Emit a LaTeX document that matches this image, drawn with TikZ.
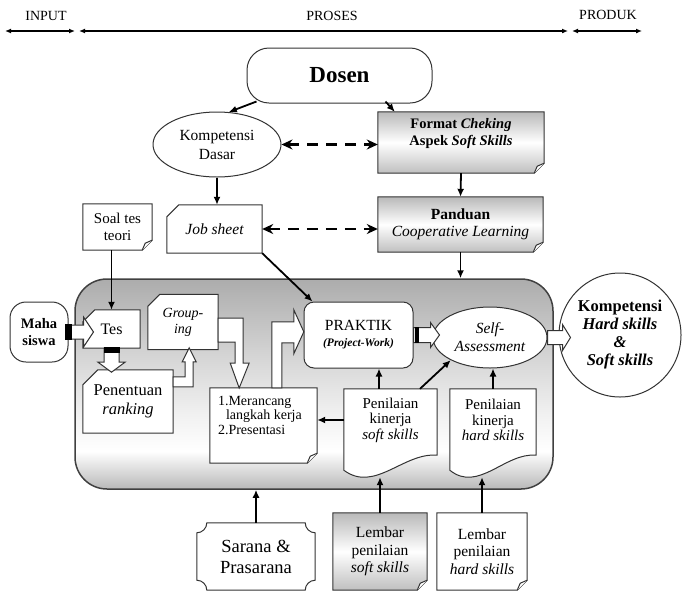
\documentclass[tikz,border=0pt]{standalone}
\usepackage{fontspec}
\setmainfont{Liberation Serif}
\usetikzlibrary{arrows.meta,calc,shapes.geometric}
\pgfdeclarelayer{back}
\pgfdeclarelayer{mid}
\pgfsetlayers{back,mid,main}
\pgfdeclareverticalshading{bigshade}{100bp}{color(0bp)=(gray!55); color(25bp)=(gray!55); color(34bp)=(white); color(42bp)=(gray!10); color(56bp)=(gray!32); color(75bp)=(gray!65); color(100bp)=(gray!65)}
\newcommand\fsz[2]{\fontsize{#1}{#2}\selectfont}
\newcommand\foldshape[2]{%
  \draw[outl,#2] (#1.north west) -- (#1.north east) -- ([yshift=10pt]#1.south east) -- ([xshift=-10pt]#1.south east) -- (#1.south west) -- cycle;
  \draw[outl,fill=white] ([yshift=10pt]#1.south east) -- ([shift={(-7pt,7pt)}]#1.south east) -- ([xshift=-10pt]#1.south east);}
\newcommand\cardshape[2]{%
  \draw[outl,fill=white] ([yshift=-#2]#1.north west) -- ([xshift=#2]#1.north west) -- (#1.north east) -- (#1.south east) -- (#1.south west) -- cycle;}
\newcommand\docshape[1]{%
  \draw[outl,fill=white] (#1.north west) -- (#1.north east) -- ($(#1.south east)+(0,4)$)
    .. controls ($(#1.south west)!0.64!(#1.south east)+(0,1)$) and ($(#1.south west)!0.33!(#1.south east)+(0,42)$) .. ($(#1.south west)+(0,19)$) -- cycle;}
\newcommand\plaqueshape[1]{%
  \draw[outl,fill=white] ([xshift=10pt]#1.north west) -- ([xshift=-10pt]#1.north east)
    .. controls ([shift={(-10pt,-5.5pt)}]#1.north east) and ([shift={(-5.5pt,-10pt)}]#1.north east) .. ([yshift=-10pt]#1.north east)
    -- ([yshift=10pt]#1.south east)
    .. controls ([shift={(-5.5pt,10pt)}]#1.south east) and ([shift={(-10pt,5.5pt)}]#1.south east) .. ([xshift=-10pt]#1.south east)
    -- ([xshift=10pt]#1.south west)
    .. controls ([shift={(10pt,5.5pt)}]#1.south west) and ([shift={(5.5pt,10pt)}]#1.south west) .. ([yshift=10pt]#1.south west)
    -- ([yshift=-10pt]#1.north west)
    .. controls ([shift={(5.5pt,-10pt)}]#1.north west) and ([shift={(10pt,-5.5pt)}]#1.north west) .. ([xshift=10pt]#1.north west) -- cycle;}
\begin{document}
\begin{tikzpicture}[x=1pt,y=-1pt,
  outl/.style={draw=black!80, line width=1pt},
  bx/.style={inner sep=0pt, align=center, text=black},
  conn/.style={line width=1.8pt, -{Latex[length=8pt,width=7pt]}},
  dconn/.style={line width=2.4pt, dash pattern=on 11pt off 8pt, {Stealth[length=11pt,width=10pt]}-{Stealth[length=11pt,width=10pt]}},
  blk/.style={draw=black!80, line width=1pt, fill=white},
  gfill/.style={top color=gray!55, bottom color=gray!50, middle color=white},
  topar/.style={line width=1.2pt, {Latex[length=6pt,width=5pt]}-{Latex[length=6pt,width=5pt]}}]
\useasboundingbox (0,0) rectangle (684,592);

% top axis
\coordinate (a0) at (5,31); \coordinate (a1) at (75,31);
\coordinate (a2) at (79,31); \coordinate (a3) at (568,31);
\coordinate (a4) at (572,31); \coordinate (a5) at (642,31);
\draw[topar] (a0) -- (a1);
\draw[topar] (a2) -- (a3);
\draw[topar] (a4) -- (a5);
\node[bx, font=\fsz{14}{16}] (lin) at (46,16) {INPUT};
\node[bx, font=\fsz{14}{16}] (lpr) at (332,16) {PROSES};
\node[bx, font=\fsz{14}{16}] (lpd) at (608,15) {PRODUK};

% big process box
\begin{pgfonlayer}{back}
\node[draw=black!75, line width=1.5pt, rounded corners=32pt, shading=bigshade, inner sep=0pt,
  minimum width=478pt, minimum height=210pt] (proc) at (314,384) {};
\end{pgfonlayer}

% nodes
\node[bx, draw=black!80, line width=1pt, fill=white, rounded corners=22pt, minimum width=185pt, minimum height=55pt, font=\fsz{23}{26}\bfseries] (dosen) at (339.5,75.5) {Dosen};
\node[bx, ellipse, draw=black!80, line width=1pt, fill=white, minimum width=128pt, minimum height=65pt, font=\fsz{15.5}{19}] (kd) at (217,144.5) {Kompetensi\\Dasar};
\node[bx, minimum width=166pt, minimum height=61pt] (format) at (461,142.5) {};
\node[bx, font=\fsz{14.5}{17}\bfseries] (formatt) at (461,134) {Format \textit{Cheking}\\Aspek \textit{Soft Skills}};
\node[bx, minimum width=165pt, minimum height=55pt, font=\fsz{15.5}{17}] (panduan) at (460.5,224.5) {\textbf{Panduan}\\\textit{Cooperative Learning}};
\node[bx, minimum width=69pt, minimum height=46pt, font=\fsz{15}{17}] (soal) at (117.5,227) {Soal tes\\teori};
\node[bx, minimum width=95pt, minimum height=48pt, font=\fsz{15.5}{18}\itshape] (jobsheet) at (214.5,229) {Job sheet};
\node[bx, draw=black!80, line width=1pt, fill=white, rounded corners=16pt, minimum width=58pt, minimum height=60pt, font=\fsz{14.5}{17}\bfseries] (maha) at (39,332) {Maha\\siswa};
\node[bx, minimum width=57pt, minimum height=38pt, font=\fsz{16}{18}] (tes) at (111.5,329) {Tes};
\node[bx, minimum width=90pt, minimum height=63pt, font=\fsz{16.5}{19}] (penentuan) at (128,401.5) {Penentuan\\\textit{ranking}};
\node[bx, minimum width=70pt, minimum height=55pt, font=\fsz{14}{16}\itshape] (grouping) at (183,322) {Group-\\ing};
\node[bx, minimum width=107pt, minimum height=75pt] (merancang) at (263.5,425.5) {};
\node[bx, anchor=north west, align=left, font=\fsz{14}{14.5}] (mert) at ([shift={(8pt,-8pt)}]merancang.north west) {1.Merancang\\\hspace*{8pt}langkah kerja\\2.Presentasi};
\node[bx, draw=black!80, line width=1pt, fill=white, rounded corners=10pt, minimum width=109pt, minimum height=66pt, font=\fsz{15.5}{16}] (praktik) at (358.5,335) {PRAKTIK\\{\fsz{11.5}{13}\bfseries\itshape (Project-Work)}};
\node[bx, ellipse, draw=black!80, line width=1pt, fill=white, minimum width=114pt, minimum height=61pt, font=\fsz{15.5}{18}\itshape] (self) at (490,337.5) {Self-\\Assessment};
\node[bx, ellipse, draw=black!80, line width=1pt, fill=white, minimum width=122pt, minimum height=124pt, font=\fsz{16.5}{18}\bfseries] (komp) at (620,335) {Kompetensi\\\textit{Hard skills}\\\textit{\&}\\\textit{Soft skills}};
\node[bx, minimum width=93pt, minimum height=62pt, font=\fsz{15}{15.5}] (psoft) at (390.5,420) {Penilaian\\kinerja\\\textit{soft skills}};
\node[bx, minimum width=86pt, minimum height=62pt, font=\fsz{15}{15.5}] (phard) at (493,420) {Penilaian\\kinerja\\\textit{hard skills}};
\node[bx, minimum width=118pt, minimum height=67pt, font=\fsz{18.5}{21}] (sarana) at (256,556.5) {Sarana \&\\Prasarana};
\node[bx, minimum width=94pt, minimum height=77pt, font=\fsz{15.5}{17.5}] (lsoft) at (380,551.5) {Lembar\\penilaian\\\textit{soft skills}};
\node[bx, minimum width=90pt, minimum height=77pt, font=\fsz{15.5}{17.5}] (lhard) at (482,551.5) {Lembar\\penilaian\\\textit{hard skills}};

% custom shapes behind the texts
\begin{pgfonlayer}{mid}
\foldshape{format}{gfill}
\foldshape{panduan}{gfill}
\foldshape{soal}{fill=white}
\foldshape{merancang}{fill=white}
\foldshape{lsoft}{gfill}
\foldshape{lhard}{fill=white}
\cardshape{jobsheet}{12pt}
\cardshape{tes}{12pt}
\cardshape{penentuan}{15pt}
\cardshape{grouping}{12pt}
\docshape{psoft}
\docshape{phard}
\plaqueshape{sarana}
\end{pgfonlayer}

% block arrows
\filldraw[blk] ($(maha.east)+(0,-7)$) -- ++(15,0) -- ++(0,-8) -- ++(10,15) -- ++(-10,15) -- ++(0,-8) -- ++(-15,0) -- cycle;
\fill ($(maha.east)+(-4,-8)$) rectangle ++(7,16);
\filldraw[blk] ($(tes.south)+(-7.5,0)$) -- ++(0,14) -- ++(-6,0) -- ++(13.5,10) -- ++(13.5,-10) -- ++(-6,0) -- ++(0,-14) -- cycle;
\fill ($(tes.south)+(-8,-1)$) rectangle ++(16,6);
\filldraw[blk] ($(penentuan.north east)+(0,7)$) -- ++(12,0) -- ++(0,-15) -- ++(-3,0) -- ++(7,-14) -- ++(7,14) -- ++(-3,0) -- ++(0,25) -- ++(-20,0) -- cycle;
\filldraw[blk] ($(grouping.east)+(0,-4)$) -- ++(25,0) -- ++(0,45) -- ++(6,0) -- ++(-10,25) -- ++(-9,-25) -- ++(5,0) -- ++(0,-21) -- ++(-17,0) -- cycle;
\filldraw[blk] ($(merancang.north west)+(62,0)$) -- ++(0,-66) -- ++(22,0) -- ++(0,-12) -- ++(10,22) -- ++(-10,22) -- ++(0,-11) -- ++(-12,0) -- ++(0,45) -- cycle;
\filldraw[blk] ($(praktik.east)+(0,-7.5)$) -- ++(17,0) -- ++(0,-5) -- ++(9,12.5) -- ++(-9,12.5) -- ++(0,-5) -- ++(-17,0) -- cycle;
\fill ($(praktik.east)+(1,-8)$) rectangle ++(4,16);
\filldraw[blk] ($(self.east)+(0,-7)$) -- ++(15,0) -- ++(0,-6) -- ++(8,13) -- ++(-8,13) -- ++(0,-6) -- ++(-15,0) -- cycle;

% connectors
\draw[conn] ([shift={(10pt,2pt)}]dosen.south west) -- (kd.70);
\draw[conn] ([shift={(-47pt,2pt)}]dosen.south east) -- ([xshift=17pt]format.north west);
\draw[dconn] (kd.east) -- (kd.east -| format.west);
\draw[conn] (format.south) -- (panduan.north);
\draw[conn] (kd.south) -- (kd.south |- jobsheet.north);
\draw[dconn] (jobsheet.east) -- (jobsheet.east -| panduan.west);
\draw[conn] (panduan.south) -- (panduan.south |- proc.north);
\draw[conn] (tes.north |- soal.south) -- (tes.north);
\draw[conn] (jobsheet.south east) -- ([xshift=9pt]praktik.north west);
\coordinate (psa) at ([xshift=-11.5pt]psoft.north);
\draw[conn] (psa) -- (psa |- praktik.south);
\draw[conn] ([xshift=29.5pt]psoft.north) -- (self.210);
\draw[conn] (phard.north) -- (phard.north |- self.south);
\draw[conn] (psoft.west) -- (psoft.west -| merancang.east);
\coordinate (psb) at ([yshift=-26pt]psoft.south);
\draw[conn] (lsoft.north) -- (lsoft.north |- psb);
\coordinate (phb) at ([yshift=-26pt]phard.south);
\draw[conn] (lhard.north) -- (lhard.north |- phb);
\draw[conn] (sarana.north) -- (sarana.north |- proc.south);
\end{tikzpicture}
\end{document}
